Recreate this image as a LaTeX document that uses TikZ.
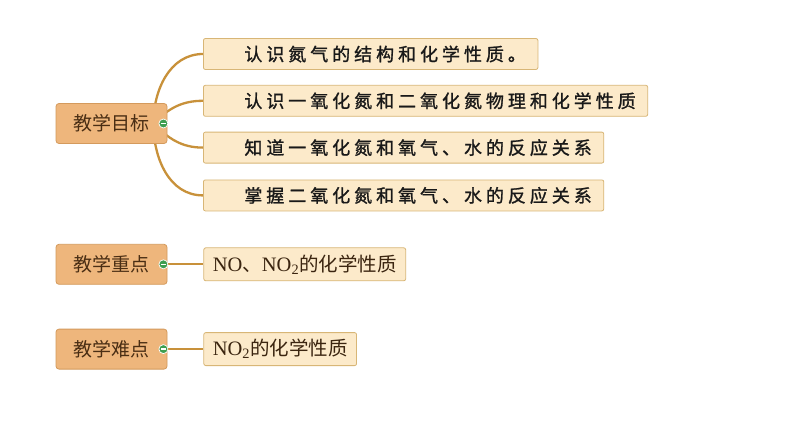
\documentclass[tikz,border=0pt]{standalone}
\usepackage{fontspec}
\setmainfont{Liberation Serif}
\newfontfamily\cjkfont{Noto Sans CJK SC}
\newfontfamily\kaifont[LetterSpace=22,FakeBold=1.2]{Noto Sans CJK SC}
\usetikzlibrary{positioning, backgrounds}
\definecolor{topicfill}{HTML}{EEB67C}
\definecolor{topicline}{HTML}{D49A5C}
\definecolor{topictext}{HTML}{4A2E14}
\definecolor{itemfill}{HTML}{FCEACA}
\definecolor{itemline}{HTML}{D8B676}
\definecolor{branch}{HTML}{C8913A}
\definecolor{foldgreen}{HTML}{3E9E50}

\begin{document}
\begin{tikzpicture}[x=1pt, y=1pt,
  topic/.style={draw=topicline, fill=topicfill, rounded corners=3pt, line width=0.8pt,
    minimum width=111pt, minimum height=40pt, text=topictext,
    font=\cjkfont\fontsize{19}{22}\selectfont},
  aim/.style={draw=itemline, fill=itemfill, rounded corners=2pt, line width=0.8pt,
    minimum height=31pt, inner xsep=12pt, text=black!90,
    font=\kaifont\fontsize{18}{21}\selectfont},
  point/.style={draw=itemline, fill=itemfill, rounded corners=2pt, line width=0.8pt,
    minimum height=33pt, inner xsep=9pt, text=topictext!80!black,
    font=\cjkfont\fontsize{19.5}{22}\selectfont},
  fold/.style={circle, draw=white, fill=foldgreen, line width=0.7pt, minimum size=9pt, inner sep=0pt,
    path picture={\draw[white, line width=1.3pt]
      ([xshift=-2.2pt]path picture bounding box.center) -- ([xshift=2.2pt]path picture bounding box.center);}},
  twig/.style={draw=branch, line width=2.3pt}]
  \useasboundingbox (0,0) rectangle (794,-447);

  \node[topic] (goal) at (111.5,-123.5) {教学目标};
  \node[topic, below=100pt of goal] (key)  {教学重点};
  \node[topic, below=44pt of key]   (hard) {教学难点};

  \node[aim, anchor=west] (aim1) at (203,-54) {\hspace*{29pt}认识氮气的结构和化学性质。};
  \node[aim, below=15pt of aim1.south west, anchor=north west] (aim2) {\hspace*{29pt}认识一氧化氮和二氧化氮物理和化学性质};
  \node[aim, below=15pt of aim2.south west, anchor=north west] (aim3) {\hspace*{29pt}知道一氧化氮和氧气、水的反应关系};
  \node[aim, below=16pt of aim3.south west, anchor=north west] (aim4) {\hspace*{29pt}掌握二氧化氮和氧气、水的反应关系};

  \node[point, right=36pt of key]  (keyitem)  {{\rmfamily\fontsize{20.5}{22}\selectfont NO}、{\rmfamily\fontsize{20.5}{22}\selectfont NO\textsubscript{2}}的化学性质};
  \node[point, right=36pt of hard] (harditem) {{\rmfamily\fontsize{20.5}{22}\selectfont NO\textsubscript{2}}的化学性质};

  \coordinate (hub) at ([xshift=-14pt]goal.east);

  \begin{scope}[on background layer]
    \fill[white] (0,0) rectangle (794,-447);
    \draw[twig] (hub) to[out=90, in=180]  (aim1.west);
    \draw[twig] (hub) to[out=45, in=180]  (aim2.west);
    \draw[twig] (hub) to[out=-45, in=180] (aim3.west);
    \draw[twig] (hub) to[out=-90, in=180] (aim4.west);
  \end{scope}
  \draw[twig] (key.east) -- (keyitem.west);
  \draw[twig] (hard.east) -- (harditem.west);

  \node[fold] (goalfold) at ([xshift=-4pt]goal.east) {};
  \node[fold] (keyfold)  at ([xshift=-4pt]key.east) {};
  \node[fold] (hardfold) at ([xshift=-4pt]hard.east) {};
\end{tikzpicture}
\end{document}
